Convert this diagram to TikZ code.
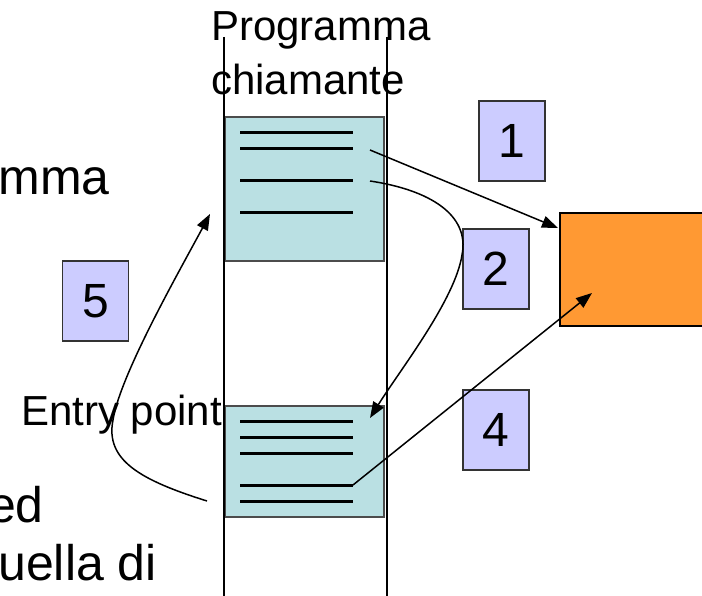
\documentclass[tikz,border=0pt]{standalone}
\usepackage{fontspec}
\setmainfont{Liberation Sans}
\usetikzlibrary{arrows.meta}
\definecolor{codecol}{HTML}{BAE0E3}
\definecolor{numcol}{HTML}{CCCCFF}
\definecolor{procol}{HTML}{FF9933}
\begin{document}
\begin{tikzpicture}
            [x=1pt,y=-1pt,
             code/.style={fill=codecol,draw=black!70,line width=1.5pt,minimum width=159pt,inner sep=0pt},
             num/.style={draw=black!80,fill=numcol,line width=1.5pt,minimum width=66pt,minimum height=80pt,inner sep=0pt,font=\fontsize{48}{48}\selectfont},
             lbl/.style={inner sep=0pt,font=\fontsize{42}{50}\selectfont},
             big/.style={inner sep=0pt,font=\fontsize{50}{60}\selectfont},
             row/.style={line width=3pt},
             wall/.style={line width=2.5pt},
             link/.style={line width=1.5pt,-{Triangle[length=16pt,width=12pt]}}]
            \clip (0,0) rectangle (702,596);
            \node[big,anchor=base east] (t1) at (110,195) {mma};
            \node[big,anchor=base east] (t2) at (44,522) {ed};
            \node[big,anchor=base east] (t3) at (157,580) {uella di};
            \node[code,minimum height=144pt] (caller) at (304.5,189) {};
            \node[code,minimum height=111pt] (entry) at (304.5,461.5) {};
            \node[draw=black,fill=procol,line width=1.5pt,minimum width=160pt,minimum height=113pt] (callee) at (640,269.5) {};
            \foreach \y in {133,149,181,213}
                \draw[row] (240,\y) -- (353,\y);
            \foreach \y in {421,437,453,485,501}
                \draw[row] (240,\y) -- (353,\y);
            \draw[wall] (224,37) -- (224,596);
            \draw[wall] (387,37) -- (387,596);
            \node[lbl,anchor=base west] (title) at (211,41) {Programma};
            \node[lbl,anchor=base west] (title2) at (211,95) {chiamante};
            \node[lbl,anchor=base east] (ep) at (222,425) {Entry point};
            \node[num] (n1) at (512,141) {1};
            \node[num] (n2) at (496,269) {2};
            \node[num] (n4) at (496,430) {4};
            \node[num] (n5) at (95.5,301) {5};
            % call and return points
            \coordinate (call) at (370,150);
            \coordinate (hit) at (558,228);
            \coordinate (jump) at (370,181);
            \coordinate (land) at (370,418);
            \coordinate (exit) at (353,485);
            \coordinate (back) at (592,293);
            \coordinate (tail) at (207,501);
            \coordinate (top) at (210,214);
            \draw[link] (call) -- (hit);
            \draw[link] (jump) .. controls (430,190) and (470,215) .. (462,255)
                .. controls (455,300) and (400,370) .. (land);
            \draw[link] (exit) -- (back);
            \draw[link] (tail) .. controls (140,480) and (105,460) .. (113,420)
                .. controls (120,375) and (180,270) .. (top);
\end{tikzpicture}
\end{document}
